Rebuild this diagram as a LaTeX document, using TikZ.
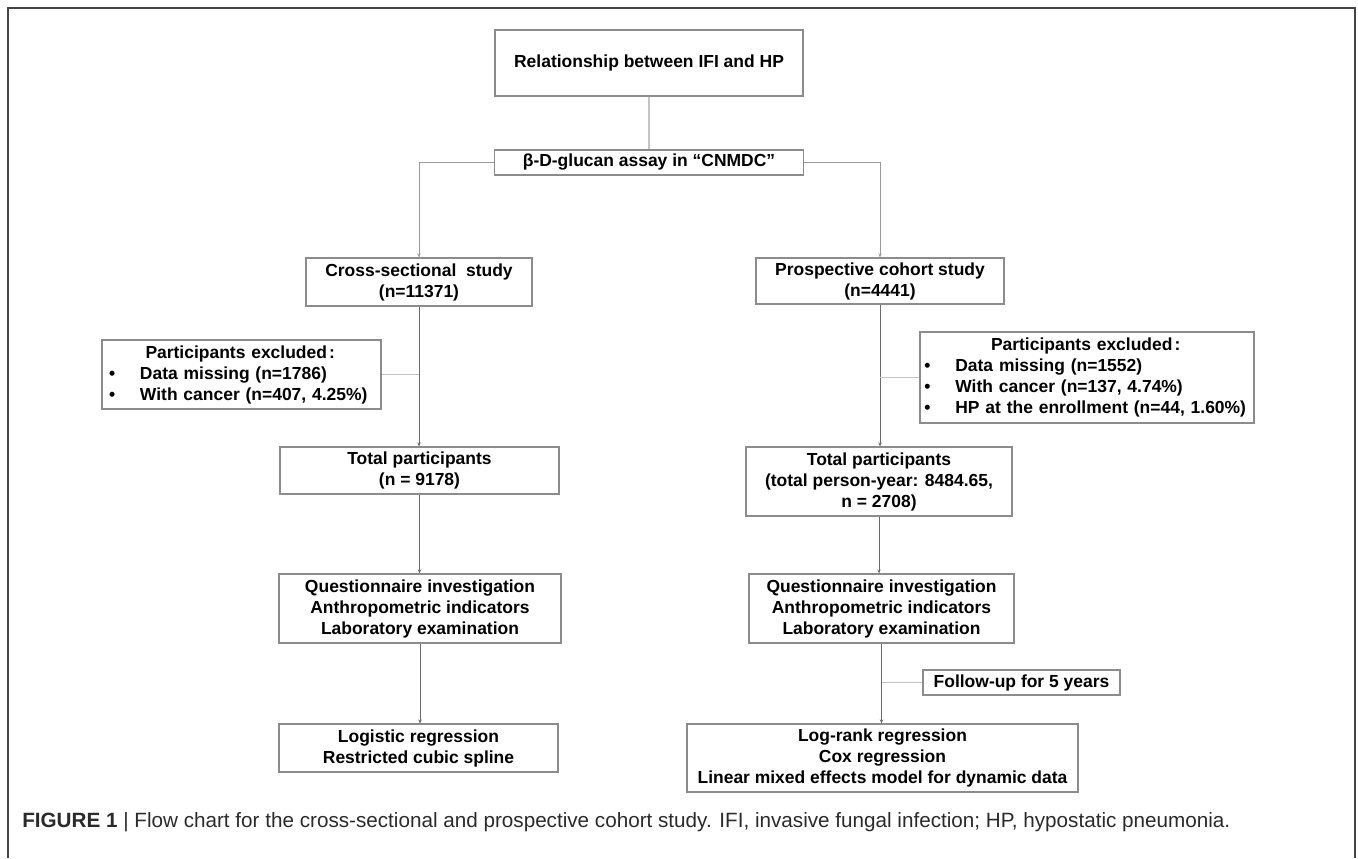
\documentclass[tikz,border=0pt]{standalone}
\usepackage{fontspec}
\setmainfont{Liberation Sans}
\usetikzlibrary{arrows.meta}
\definecolor{boxgray}{HTML}{8C8C8C}
\definecolor{arrgray}{HTML}{6A6A6A}
\definecolor{branchgray}{HTML}{9A9A9A}
\definecolor{lightgray}{HTML}{C4C4C4}
\definecolor{framegray}{HTML}{454545}
\definecolor{captext}{HTML}{2A2A2A}
\tikzset{
  box/.style={draw=boxgray, line width=0.9pt, fill=white, inner sep=0pt, align=center,
    font=\bfseries\fontsize{13.1}{15.75}\selectfont},
  arr/.style={draw=arrgray, line width=0.6pt, -{Stealth[length=3pt,width=2.6pt]}},
  branch/.style={draw=branchgray, line width=0.7pt, -{Stealth[length=3pt,width=2.6pt]}},
  side/.style={draw=lightgray, line width=0.8pt},
}
\newcommand{\bul}{\makebox[23.25pt][l]{\textbullet}}
\begin{document}
\begin{tikzpicture}[x=0.75pt,y=-0.75pt]
\useasboundingbox (0,0) rectangle (1358,858);
% frame
\draw[framegray, line width=1.6pt] (8,858) -- (8,8) -- (1355,8) -- (1355,858);

\node[box, minimum width=231pt, minimum height=49.5pt] (top) at (649,63) {Relationship between IFI and HP};
\node[box, minimum width=231.75pt, minimum height=18.75pt] (beta) at (649,162.5) {β-D-glucan assay in “CNMDC”};

\node[box, minimum width=169.5pt, minimum height=36pt] (cs) at (419,282) {Cross-sectional\ \ study\\(n=11371)};
\node[box, minimum width=186pt, minimum height=34.5pt] (pc) at (880,281) {Prospective cohort study\\(n=4441)};

\node[box, minimum width=209.25pt, minimum height=51.75pt, text width=198.75pt, align=left] (exl) at (241.5,374.5)
  {\hfill Participants excluded\kern1.5pt:\kern2pt\hfill\null\\
   \bul Data missing (n=1786)\\
   \bul With cancer (n=407, 4.25\%)};
\node[box, minimum width=250.5pt, minimum height=68.25pt, text width=244pt, align=left] (exr) at (1087,377.5)
  {\hfill Participants excluded\kern1.5pt:\kern2pt\hfill\null\\
   \bul Data missing (n=1552)\\
   \bul With cancer (n=137, 4.74\%)\\
   \bul HP at the enrollment (n=44, 1.60\%)};

\node[box, minimum width=209.25pt, minimum height=35.25pt] (totl) at (419.5,470.5) {Total participants\\(n = 9178)};
\node[box, minimum width=199.5pt, minimum height=51.75pt] (totr) at (879,481.5) {Total participants\\(total person-year: 8484.65,\\n = 2708)};

\node[box, minimum width=211.5pt, minimum height=51.75pt] (ql) at (420,608.5) {Questionnaire investigation\\Anthropometric indicators\\Laboratory examination};
\node[box, minimum width=198.75pt, minimum height=51.75pt] (qr) at (881.5,608.5) {Questionnaire investigation\\Anthropometric indicators\\Laboratory examination};

\node[box, minimum width=147.75pt, minimum height=18.75pt] (fu) at (1021.5,682.5) {Follow-up for 5 years};

\node[box, minimum width=209.25pt, minimum height=36pt] (ll) at (418.5,748) {Logistic regression\\Restricted cubic spline};
\node[box, minimum width=293.25pt, minimum height=51pt] (lr) at (882.5,758) {Log-rank regression\\Cox regression\\Linear mixed effects model for dynamic data};

% connectors
\draw[side] (top.south) -- (beta.north);
\draw[branch] (beta.west) -| (cs.north);
\draw[branch] (beta.east) -| (pc.north);

\draw[arr] (cs.south) -- (cs.south |- totl.north);
\draw[side] (exl.east) -- (exl.east -| cs.south);
\draw[arr] (totl.south) -- (totl.south |- ql.north);
\draw[arr] (ql.south) -- (ql.south |- ll.north);

\draw[arr] (pc.south) -- (pc.south |- totr.north);
\draw[side] (exr.west) -- (exr.west -| pc.south);
\draw[arr] (totr.south) -- (totr.south |- qr.north);
\draw[arr] (qr.south) -- (qr.south |- lr.north);
\draw[side] (fu.west) -- (fu.west -| qr.south);

% caption
\node[anchor=base west, inner sep=0pt, text=captext, font=\fontsize{15.5}{18}\selectfont] (cap) at (22,827)
  {\textbf{FIGURE 1} | Flow chart for the cross-sectional and prospective cohort study. IFI, invasive fungal infection; HP, hypostatic pneumonia.};
\end{tikzpicture}
\end{document}
